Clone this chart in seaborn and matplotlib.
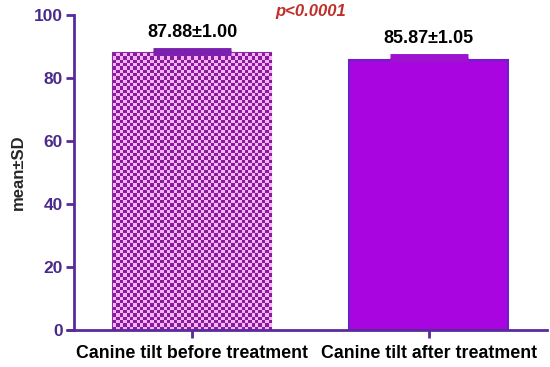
import numpy as np
import pandas as pd
import seaborn as sns
import matplotlib.pyplot as plt
from matplotlib.lines import Line2D

groups = ["Canine tilt before treatment", "Canine tilt after treatment"]
means = [87.88, 85.87]
sds = [1.00, 1.05]
labels = ["87.88\u00b11.00", "85.87\u00b11.05"]
p_text = "p<0.0001"
yticks = [0, 20, 40, 60, 80, 100]

df = pd.DataFrame({"group": groups, "mean": means})

sns.set_style("white")
plt.rcParams["font.family"] = ["Liberation Sans", "DejaVu Sans"]

axis_col = "#5a2a9c"
tick_col = "#4a2a8c"

fig = plt.figure(figsize=(5.5, 3.67), dpi=100)
ax = fig.add_axes([0.1345, 0.1008, 0.86, 0.858])

sns.barplot(data=df, x="group", y="mean", ax=ax, width=0.67,
            palette=["#ffffff", "#a805e0"], hue="group", legend=False,
            errorbar=None, linewidth=1.5, edgecolor="#6a22c8", saturation=1)
ax.set_xlim(-0.5, 1.5)
ax.set_ylim(0, 100)

# checkerboard fill for the first bar (cells ~3.3 px)
bar = ax.patches[0]
bar.set_edgecolor("#8a2aa8")
x0, y0 = bar.get_x(), bar.get_y()
w, h = bar.get_width(), bar.get_height()
ncols = int(158 / 3.3)
nrows = int(h / 100 * 315 / 3.3)
chk = (np.add.outer(np.arange(nrows), np.arange(ncols)) % 2).astype(float)
cmap = sns.blend_palette(["#8a1a9c", "#f2b4f2"], as_cmap=True)
im = ax.imshow(chk, extent=[x0, x0 + w, y0, y0 + h], cmap=cmap, aspect="auto",
               interpolation="nearest", origin="lower", zorder=bar.get_zorder() + 0.1)
im.set_clip_path(bar)
ax.set_xlim(-0.5, 1.5)
ax.set_ylim(0, 100)

# upper-only error bars
ecols = ["#7a1fb0", "#a010d0"]
for i in range(2):
    ax.errorbar(i, means[i], yerr=[[0], [sds[i]]], fmt="none", ecolor=ecols[i],
                elinewidth=1.5, capsize=28, capthick=3.5, zorder=5, clip_on=False)
    ax.text(i, means[i] + sds[i] + 5.6, labels[i], ha="center", va="center",
            fontsize=13, fontweight="bold", color="black")

ax.text(0.5, 101.2, p_text, ha="center", va="center", fontsize=12,
        fontweight="bold", fontstyle="italic", color="#c0302a", clip_on=False)

sns.despine(ax=ax)
for s in ["left", "bottom"]:
    ax.spines[s].set_color(axis_col)
    ax.spines[s].set_linewidth(2)
ax.add_line(Line2D([-0.015, 0], [0, 0], transform=ax.transAxes, color=axis_col,
                   lw=2, clip_on=False))

ax.set_yticks(yticks)
ax.tick_params(axis="y", direction="out", length=6, width=2, color=axis_col,
               labelcolor=tick_col, labelsize=12.5, pad=2, left=True)
ax.tick_params(axis="x", direction="out", length=6, width=2, color=axis_col,
               labelcolor="black", labelsize=12.8, pad=5, bottom=True)
for t in ax.get_yticklabels() + ax.get_xticklabels():
    t.set_fontweight("bold")
ax.set_xlabel("")
ax.set_ylabel("mean\u00b1SD", fontsize=12, fontweight="bold", labelpad=6)

fig.savefig("out.png", dpi=100)
